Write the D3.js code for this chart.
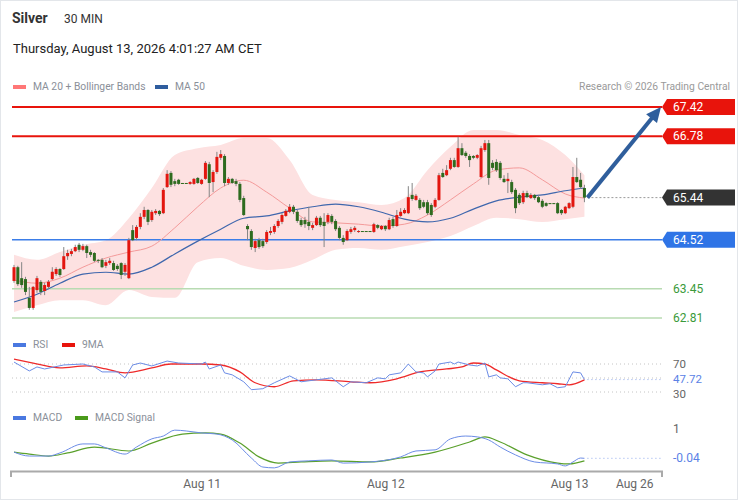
<!DOCTYPE html>
<html>
<head>
<meta charset="utf-8">
<script src="https://cdn.jsdelivr.net/npm/d3@7"></script>
<style>
  body { margin: 0; background: #fff; }
  svg text { font-family: Roboto, "Liberation Sans", Arial, sans-serif; }
</style>
</head>
<body>
<script>
/* GLOBALS */
var W = 738, H = 500;

// 30 min candles, [open, high, low, close]
var ohlc = [
  [63.62,63.97,63.58,63.92],[63.92,63.95,63.51,63.55],[63.68,64.03,63.47,63.53],[63.66,63.71,63.31,63.38],
  [63.25,63.49,62.99,63.03],[63.03,63.51,62.99,63.49],[63.42,63.73,63.36,63.68],[63.60,63.64,63.31,63.38],
  [63.40,63.58,63.31,63.53],[63.49,63.64,63.44,63.60],[63.66,63.92,63.64,63.82],[63.77,63.92,63.73,63.88],
  [63.88,63.90,63.71,63.75],[63.88,64.36,63.86,64.16],[64.16,64.30,64.08,64.23],[64.21,64.32,64.16,64.27],
  [64.27,64.41,64.25,64.36],[64.41,64.45,64.25,64.30],[64.30,64.43,64.27,64.38],[64.38,64.41,64.12,64.23],
  [64.25,64.30,64.14,64.19],[64.23,64.25,64.03,64.06],[64.08,64.10,64.01,64.06],[64.08,64.12,63.90,63.92],
  [63.95,64.08,63.90,64.03],[64.01,64.12,63.97,64.06],[64.01,64.06,63.84,63.86],[63.95,63.99,63.84,63.88],
  [64.01,64.03,63.66,63.75],[63.82,64.01,63.73,63.97],[63.68,64.56,63.66,64.51],[64.73,64.84,64.49,64.51],
  [64.56,64.84,64.51,64.80],[64.80,65.10,64.75,65.02],[65.02,65.24,64.97,65.17],[65.17,65.19,64.84,64.91],
  [64.95,65.17,64.91,65.13],[65.10,65.19,65.06,65.15],[65.15,65.17,65.04,65.08],[65.10,65.65,65.08,65.61],
  [65.67,66.04,65.65,65.96],[65.98,66.02,65.67,65.72],[65.80,65.85,65.69,65.74],[65.83,65.85,65.72,65.74],
  [65.76,65.76,65.74,65.74],[65.76,65.76,65.74,65.74],[65.74,65.80,65.72,65.78],[65.74,65.87,65.72,65.85],
  [65.87,65.89,65.74,65.76],[65.74,65.85,65.72,65.83],[65.85,66.24,65.83,66.20],[66.17,66.22,65.45,65.76],
  [65.78,66.04,65.56,66.00],[66.00,66.44,65.96,66.33],[66.31,66.48,66.26,66.39],[66.35,66.39,65.69,65.76],
  [65.76,65.89,65.72,65.85],[65.85,65.87,65.74,65.76],[65.80,65.85,65.69,65.74],[65.74,65.78,65.34,65.39],
  [65.43,65.48,65.04,65.06],[64.82,64.86,64.51,64.75],[64.71,64.75,64.30,64.36],[64.34,64.54,64.25,64.49],
  [64.51,64.56,64.32,64.36],[64.49,64.54,64.34,64.38],[64.47,64.73,64.43,64.69],[64.67,64.80,64.62,64.71],
  [64.69,64.86,64.65,64.82],[64.82,64.97,64.78,64.93],[64.91,65.10,64.86,65.06],[65.04,65.19,65.02,65.15],
  [65.13,65.30,65.10,65.24],[65.24,65.28,65.08,65.13],[65.13,65.17,64.89,64.93],[64.95,65.00,64.80,64.84],
  [64.95,65.02,64.78,64.86],[64.91,65.24,64.73,64.82],[64.78,64.89,64.73,64.84],[64.84,65.04,64.82,65.00],
  [65.00,65.04,64.80,64.84],[64.91,65.10,64.36,64.82],[64.91,65.10,64.86,65.06],[65.04,65.08,64.86,64.91],
  [64.93,64.97,64.71,64.75],[64.78,64.82,64.51,64.56],[64.56,64.62,64.41,64.47],[64.51,64.75,64.49,64.71],
  [64.69,64.80,64.65,64.75],[64.73,64.82,64.69,64.78],[64.69,64.73,64.67,64.71],[64.71,64.71,64.69,64.69],
  [64.71,64.71,64.69,64.69],[64.71,64.71,64.69,64.69],[64.69,64.89,64.67,64.86],[64.84,64.86,64.75,64.78],
  [64.75,64.84,64.73,64.82],[64.82,64.84,64.71,64.75],[64.75,65.00,64.73,64.95],[64.97,65.02,64.78,64.82],
  [64.82,65.17,64.80,65.06],[65.04,65.21,65.02,65.13],[65.10,65.21,65.08,65.17],[65.10,65.69,65.08,65.45],
  [65.50,65.76,65.37,65.41],[65.39,65.52,65.37,65.48],[65.39,65.43,65.17,65.21],[65.34,65.39,65.21,65.24],
  [65.34,65.39,65.06,65.10],[65.28,65.32,65.02,65.06],[65.24,65.43,65.21,65.39],[65.39,65.98,65.37,65.93],
  [65.98,66.07,65.87,65.89],[65.93,66.15,65.91,66.04],[66.07,66.31,66.04,66.26],[66.26,66.31,66.09,66.11],
  [66.11,66.77,66.09,66.52],[66.52,66.63,66.35,66.37],[66.42,66.46,66.31,66.35],[66.35,66.39,66.11,66.26],
  [66.35,66.37,66.28,66.31],[66.31,66.39,66.28,66.37],[65.89,66.57,65.87,66.52],[66.48,66.70,66.44,66.63],
  [66.63,66.70,65.72,65.87],[66.20,66.26,66.04,66.09],[66.22,66.28,66.00,66.04],[66.20,66.24,65.83,65.87],
  [65.85,65.93,65.76,65.78],[65.80,65.98,65.54,65.85],[65.78,65.83,65.52,65.56],[65.61,65.65,65.10,65.21],
  [65.50,65.54,65.28,65.32],[65.34,65.59,65.30,65.54],[65.54,65.59,65.43,65.45],[65.43,65.54,65.41,65.50],
  [65.50,65.52,65.39,65.43],[65.45,65.50,65.32,65.34],[65.37,65.41,65.21,65.24],[65.32,65.34,65.24,65.26],
  [65.32,65.32,65.30,65.30],[65.32,65.32,65.30,65.30],[65.32,65.34,65.08,65.10],[65.17,65.19,65.06,65.10],
  [65.10,65.26,65.08,65.24],[65.21,65.34,65.19,65.32],[65.24,66.11,65.21,65.89],[65.89,66.31,65.76,65.78],
  [65.83,65.98,65.63,65.67],[65.65,65.72,65.34,65.44]
];

// moving averages + bollinger, read at these candle indices
var lineIdx = [0,6,12,18,24,30,36,42,48,54,60,66,72,78,84,90,96,102,108,114,120,126,132,138,144,149];
var ma20  = [63.64,63.57,63.68,63.92,64.12,64.25,64.38,64.78,65.24,65.65,65.82,65.56,65.21,64.91,64.89,64.86,64.82,64.86,65.06,65.39,65.74,66.04,66.09,65.83,65.52,65.43];
var ma50  = [63.16,63.33,63.57,63.77,63.81,63.77,63.92,64.21,64.49,64.75,64.99,65.04,65.15,65.24,65.30,65.24,65.12,64.97,64.91,64.99,65.19,65.37,65.45,65.50,65.59,65.65];
var bbUp  = [64.19,64.08,64.25,64.41,64.51,64.99,65.65,66.37,66.52,66.59,66.74,66.74,66.26,65.50,65.39,65.34,65.28,65.43,66.04,66.55,66.92,66.92,66.81,66.70,66.37,65.93];
var bbLow = [62.94,63.09,63.20,63.20,63.09,63.42,63.27,63.25,64.03,64.12,63.95,63.86,63.90,64.08,64.30,64.34,64.30,64.38,64.47,64.60,64.82,65.00,64.97,64.91,64.97,65.02];

// key levels
var levels = [67.42, 66.78, 65.44, 64.52, 63.45, 62.81];
var levelKind = ["res", "res", "last", "sup", "pivot", "pivot"];

// RSI panel [candle index, value]
var rsi = [[0,72.8],[4,60.1],[6,65.8],[8,62.9],[13,68.6],[18,70],[21,65.8],[23,58.7],[27,58.7],[29,50.2],
  [31,68.6],[33,71.4],[36,67.2],[40,74.2],[43,71.4],[49,70],[50,72.8],[51,62.9],[54,68.6],[55,57.3],
  [57,54.5],[60,44.6],[62,33.3],[65,34.7],[68,43.2],[72,53],[75,44.6],[79,47.4],[83,50.2],[86,37.5],
  [88,44.6],[92,43.2],[95,50.2],[97,48.8],[98,54.5],[101,57.3],[103,70],[105,58.7],[107,57.3],[108,51.6],
  [110,60.1],[111,70],[114,72.8],[115,70],[116,72.8],[119,68.6],[121,67.2],[123,71.4],[124,51.6],[126,54.5],
  [127,50.2],[129,48.8],[131,37.5],[133,43.2],[134,43.2],[138,40.3],[140,41.8],[142,36.1],[144,37.5],[146,58.7],
  [148,57.3],[149,47.72]];
var rsiMa = [[0,77],[5,71.4],[12,64.4],[19,67.2],[24,62.9],[29,57.3],[36,64.4],[41,70],[49,70],[54,68.6],
  [59,58.7],[63,43.2],[68,37.5],[73,46],[79,47.4],[88,44.6],[93,43.2],[100,48.8],[106,58.7],[113,62.9],
  [117,65.8],[120,71.4],[123,70],[126,61.5],[132,46],[138,43.2],[142,41.8],[145,40.3],[149,47.4]];

// MACD panel
var macd = [[0,0.18],[4,0.04],[9,0.04],[12,0.15],[18,0.47],[21,0.47],[24,0.33],[29,0.11],[32,0.36],[36,0.65],
  [39,0.75],[42,0.96],[45,0.93],[49,0.86],[53,0.82],[57,0.61],[62,-0.03],[65,-0.35],[68,-0.38],[72,-0.17],
  [77,-0.13],[83,-0.10],[86,-0.21],[93,-0.17],[101,0.01],[105,0.22],[110,0.26],[114,0.65],[118,0.75],[121,0.72],
  [124,0.61],[127,0.36],[131,0.08],[136,-0.17],[142,-0.24],[144,-0.31],[146,-0.17],[148,-0.03],[149,-0.04]];
var macdSignal = [[0,0.18],[4,0.11],[9,0.04],[14,0.15],[21,0.36],[30,0.22],[36,0.50],[44,0.82],[50,0.86],[54,0.82],
  [59,0.50],[64,0.01],[69,-0.21],[75,-0.17],[83,-0.13],[93,-0.17],[101,-0.03],[110,0.18],[119,0.54],[123,0.72],
  [127,0.54],[134,0.08],[142,-0.21],[145,-0.24],[149,-0.13]];

var tickIdx = [49, 97, 145, 162];
var tickLabels = ["Aug 11", "Aug 12", "Aug 13", "Aug 26"];

var lastRsi = 47.72, lastMacd = -0.04;

/* MAIN */
function main() {
  var svg = d3.select('body').append('svg')
    .attr('width', W)
    .attr('height', H);

  svg.append('rect')
    .attr('x', 0.5).attr('y', 0.5)
    .attr('width', W - 1).attr('height', H - 1)
    .attr('fill', '#fff')
    .attr('stroke', '#e3e6ea');

  // scales
  var x = d3.scaleLinear().domain([0, 169]).range([14, 661]);
  var y = d3.scaleLinear().domain([62.81, 67.42]).range([318, 107]);
  var yR = d3.scaleLinear().domain([30, 70]).range([392, 364]);
  var yM = d3.scaleLinear().domain([-0.04, 1]).range([458.3, 429]);
  var left = 12, right = 662, lastX = x(ohlc.length - 1);

  // header
  svg.append('text').attr('x', 12).attr('y', 23)
    .attr('font-size', 14).attr('font-weight', 'bold').attr('fill', '#333').text('Silver');
  svg.append('text').attr('x', 64).attr('y', 23)
    .attr('font-size', 12).attr('fill', '#333').text('30 MIN');
  svg.append('text').attr('x', 13).attr('y', 53)
    .attr('font-size', 13).attr('fill', '#222').text('Thursday, August 13, 2026 4:01:27 AM CET');

  // legends
  function legend(items, yy) {
    items.forEach(function (it) {
      svg.append('rect').attr('x', it.x).attr('y', yy - 5).attr('width', 13).attr('height', 4).attr('fill', it.c);
      svg.append('text').attr('x', it.x + 20).attr('y', yy)
        .attr('font-size', 10.3).attr('fill', '#8a8f99').text(it.t);
    });
  }
  legend([{ x: 13, c: '#f77', t: 'MA 20 + Bollinger Bands' }, { x: 155, c: '#2f5d9e', t: 'MA 50' }], 90);
  svg.append('text').attr('x', 730).attr('y', 90).attr('text-anchor', 'end')
    .attr('font-size', 10.3).attr('fill', '#9a9a9a').text('Research \u00a9 2026 Trading Central');

  // bollinger band
  var band = d3.area()
    .x(function (d, i) { return x(lineIdx[i]); })
    .y0(function (d, i) { return y(bbLow[i]); })
    .y1(function (d, i) { return y(bbUp[i]); })
    .curve(d3.curveMonotoneX);
  svg.append('path').datum(bbUp).attr('d', band).attr('fill', '#fde1e1');

  // levels
  var levelColor = { res: '#e8140c', last: '#333', sup: '#2f74e6', pivot: '#b8dbb2' };
  levels.forEach(function (v, k) {
    var kind = levelKind[k], yy = y(v);
    var ln = svg.append('line')
      .attr('x1', kind == 'last' ? lastX + 3 : left).attr('x2', right)
      .attr('y1', yy).attr('y2', yy);
    if (kind == 'res') ln.attr('stroke', levelColor.res).attr('stroke-width', 2);
    if (kind == 'sup') ln.attr('stroke', '#3b7de8').attr('stroke-width', 1.5);
    if (kind == 'pivot') ln.attr('stroke', levelColor.pivot).attr('stroke-width', 1.5);
    if (kind == 'last') ln.attr('stroke', '#999').attr('stroke-dasharray', '2,2');

    if (kind == 'pivot') {
      svg.append('text').attr('x', 673).attr('y', yy + 4)
        .attr('font-size', 12).attr('fill', '#3a9a3a').text(v.toFixed(2));
    } else {
      svg.append('path')
        .attr('d', 'M662,' + yy + 'L667,' + (yy - 8) + 'L735,' + (yy - 8) + 'L735,' + (yy + 8) + 'L667,' + (yy + 8) + 'Z')
        .attr('fill', levelColor[kind]);
      svg.append('text').attr('x', 673).attr('y', yy + 4)
        .attr('font-size', 12).attr('fill', '#fff').text(v.toFixed(2));
    }
  });

  // moving averages
  var maLine = function (arr) {
    return d3.line()
      .x(function (d, i) { return x(lineIdx[i]); })
      .y(function (d) { return y(d); })
      .curve(d3.curveMonotoneX)(arr);
  };
  svg.append('path').attr('d', maLine(ma20)).attr('fill', 'none').attr('stroke', '#f49a9a').attr('stroke-width', 1);
  svg.append('path').attr('d', maLine(ma50)).attr('fill', 'none').attr('stroke', '#3f67ad').attr('stroke-width', 1.2);

  // candles
  var c = svg.append('g').selectAll('g').data(ohlc).enter().append('g');
  c.append('line')
    .attr('x1', function (d, i) { return x(i); }).attr('x2', function (d, i) { return x(i); })
    .attr('y1', function (d) { return y(d[1]); }).attr('y2', function (d) { return y(d[2]); })
    .attr('stroke', '#858585').attr('stroke-width', 1);
  c.append('rect')
    .attr('x', function (d, i) { return x(i) - 1.5; })
    .attr('width', 3)
    .attr('y', function (d) { return y(Math.max(d[0], d[3])); })
    .attr('height', function (d) { return Math.max(1, Math.abs(y(d[0]) - y(d[3]))); })
    .attr('fill', function (d) { return d[3] > d[0] ? '#e3160f' : d[3] < d[0] ? '#2e6b1f' : '#555'; });

  // target arrow
  var ax0 = lastX + 3, ay0 = y(ohlc[ohlc.length - 1][3]), ax1 = 661, ay1 = y(levels[0]);
  var dx = ax1 - ax0, dy = ay1 - ay0, len = Math.sqrt(dx * dx + dy * dy);
  var ux = dx / len, uy = dy / len, bx = ax1 - 15 * ux, by = ay1 - 15 * uy;
  svg.append('line').attr('x1', ax0).attr('y1', ay0).attr('x2', bx + 2 * ux).attr('y2', by + 2 * uy)
    .attr('stroke', '#2f5e9c').attr('stroke-width', 4);
  svg.append('path')
    .attr('d', 'M' + ax1 + ',' + ay1 + 'L' + (bx - 7 * uy) + ',' + (by + 7 * ux) + 'L' + (bx + 7 * uy) + ',' + (by - 7 * ux) + 'Z')
    .attr('fill', '#2f5e9c');

  // RSI panel
  legend([{ x: 13, c: '#4a78e0', t: 'RSI' }, { x: 62, c: '#e8140c', t: '9MA' }], 348);
  [70, 50, 30].forEach(function (v) {
    svg.append('line').attr('x1', left).attr('x2', right).attr('y1', yR(v)).attr('y2', yR(v))
      .attr('stroke', '#c4c4c4').attr('stroke-dasharray', '1,3');
  });
  var pairLine = function (sc) {
    return d3.line().x(function (d) { return x(d[0]); }).y(function (d) { return sc(d[1]); });
  };
  svg.append('path').attr('d', pairLine(yR).curve(d3.curveMonotoneX)(rsiMa))
    .attr('fill', 'none').attr('stroke', '#ee2a2a').attr('stroke-width', 1.3);
  svg.append('path').attr('d', pairLine(yR)(rsi))
    .attr('fill', 'none').attr('stroke', '#6b8ce6').attr('stroke-width', 1);
  svg.append('line').attr('x1', lastX + 3).attr('x2', right).attr('y1', yR(lastRsi)).attr('y2', yR(lastRsi))
    .attr('stroke', '#8fa8ec').attr('stroke-dasharray', '1,3');
  svg.append('text').attr('x', 673).attr('y', yR(70) + 4).attr('font-size', 11.5).attr('fill', '#666').text('70');
  svg.append('text').attr('x', 673).attr('y', yR(lastRsi) + 3.5).attr('font-size', 11.5).attr('fill', '#5b82e6').text(lastRsi.toFixed(2));
  svg.append('text').attr('x', 673).attr('y', yR(30) + 5.5).attr('font-size', 11.5).attr('fill', '#666').text('30');

  // MACD panel
  legend([{ x: 13, c: '#4a78e0', t: 'MACD' }, { x: 75, c: '#4a9a1a', t: 'MACD Signal' }], 421);
  svg.append('path').attr('d', pairLine(yM).curve(d3.curveMonotoneX)(macdSignal))
    .attr('fill', 'none').attr('stroke', '#5aa02c').attr('stroke-width', 1.2);
  svg.append('path').attr('d', pairLine(yM).curve(d3.curveMonotoneX)(macd))
    .attr('fill', 'none').attr('stroke', '#6b8ce6').attr('stroke-width', 1);
  svg.append('line').attr('x1', lastX + 3).attr('x2', right).attr('y1', yM(lastMacd)).attr('y2', yM(lastMacd))
    .attr('stroke', '#8fa8ec').attr('stroke-dasharray', '1,3');
  svg.append('text').attr('x', 673).attr('y', yM(1) + 4).attr('font-size', 12).attr('fill', '#666').text('1');
  svg.append('text').attr('x', 673).attr('y', yM(lastMacd) + 4).attr('font-size', 12).attr('fill', '#5b82e6').text(lastMacd.toFixed(2));

  // X axis
  var axis = svg.append('g')
    .attr('transform', 'translate(0,471.5)')
    .call(d3.axisBottom(x).tickValues(tickIdx)
      .tickFormat(function (d, i) { return tickLabels[i]; })
      .tickSizeInner(0).tickSizeOuter(0).tickPadding(8));
  axis.select('.domain').remove();
  axis.selectAll('text').attr('font-size', 12).attr('fill', '#666')
    .style('font-family', 'Roboto, "Liberation Sans", Arial, sans-serif');
  svg.append('path').attr('d', 'M11,477V471.5H662V477')
    .attr('fill', 'none').attr('stroke', '#aaa').attr('stroke-width', 2);
}

window.addEventListener('load', main);
</script>
</body>
</html>
